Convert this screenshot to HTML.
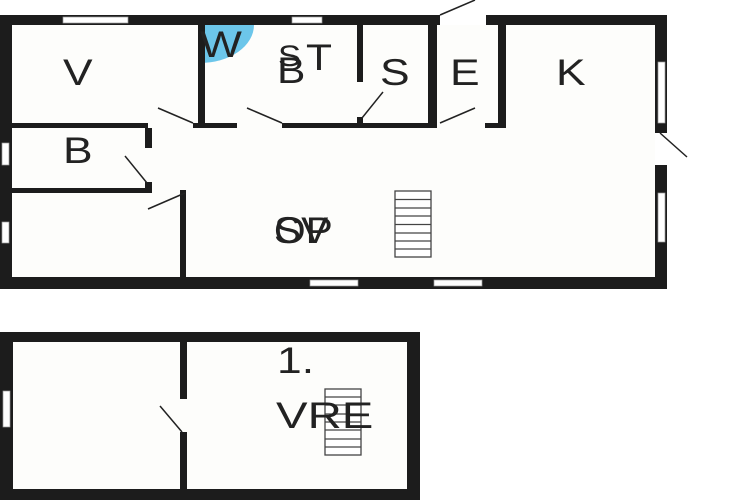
<!DOCTYPE html>
<html><head><meta charset="utf-8"><style>
html,body{margin:0;padding:0;background:#fff;}
svg{display:block;}
text{font-family:"Liberation Sans",sans-serif;font-size:37px;fill:#222;}
</style></head><body>
<svg width="750" height="500" viewBox="0 0 750 500" xmlns="http://www.w3.org/2000/svg">
<rect x="0" y="0" width="750" height="500" fill="#fff"/>
<rect x="12" y="25" width="643" height="252" fill="#fdfdfb"/>
<path d="M200 25 L254 25 A54 38 0 0 1 200 63 Z" fill="#6cc6ea"/>
<g fill="#1c1c1c">
<rect x="0" y="15" width="440" height="10"/>
<rect x="486" y="15" width="181" height="10"/>
<rect x="0" y="15" width="12" height="274"/>
<rect x="0" y="277" width="667" height="12"/>
<rect x="655" y="15" width="12" height="118"/>
<rect x="655" y="165" width="12" height="124"/>
<rect x="198" y="25" width="7" height="103"/>
<rect x="12" y="123" width="136" height="5"/>
<rect x="193" y="123" width="44" height="5"/>
<rect x="282" y="123" width="155" height="5"/>
<rect x="357" y="25" width="6" height="57"/>
<rect x="357" y="117" width="6" height="8"/>
<rect x="428" y="25" width="9" height="103"/>
<rect x="498" y="25" width="8" height="103"/>
<rect x="485" y="123" width="21" height="5"/>
<rect x="12" y="188" width="140" height="5"/>
<rect x="145" y="128" width="7" height="20"/>
<rect x="145" y="182" width="7" height="11"/>
<rect x="180" y="190" width="6" height="87"/>
</g>
<g fill="#fff" stroke="#999" stroke-width="0.7">
<rect x="63" y="17" width="65" height="6"/>
<rect x="292" y="17" width="30" height="6"/>
<rect x="2" y="143" width="7" height="22"/>
<rect x="2" y="222" width="7" height="21"/>
<rect x="310" y="280" width="48" height="6"/>
<rect x="434" y="280" width="48" height="6"/>
<rect x="658" y="62" width="7" height="61"/>
<rect x="658" y="193" width="7" height="49"/>
</g>
<g stroke="#444" stroke-width="1.3" fill="#fff">
<rect x="395" y="191" width="36" height="66"/>
<path d="M395 199.5H431M395 208H431M395 216H431M395 224.5H431M395 233H431M395 241H431M395 249H431"/>
</g>
<text transform="translate(63,85) scale(1.2,1)">V</text>
<text transform="translate(200,57) scale(1.2,1)">W</text>
<text transform="translate(277,83) scale(1.15,1)">B</text>
<text transform="translate(278,66) scale(1.15,1)" style="font-size:30px">S</text>
<text transform="translate(306,70) scale(1.15,1)">T</text>
<text transform="translate(380,85) scale(1.2,1)">S</text>
<text transform="translate(450,85) scale(1.2,1)">E</text>
<text transform="translate(556,85) scale(1.2,1)">K</text>
<text transform="translate(63,163) scale(1.2,1)">B</text>
<text transform="translate(274,243) scale(1.1,1)">SV</text>
<text transform="translate(274,243) scale(1.1,1)">OP</text>
<!-- bottom plan -->
<rect x="13" y="342" width="394" height="147" fill="#fdfdfb"/>
<g fill="#1c1c1c">
<rect x="0" y="332" width="420" height="10"/>
<rect x="0" y="489" width="420" height="11"/>
<rect x="0" y="332" width="13" height="168"/>
<rect x="407" y="332" width="13" height="168"/>
<rect x="180" y="342" width="7" height="57"/>
<rect x="180" y="432" width="7" height="57"/>
</g>
<g fill="#fff" stroke="#999" stroke-width="0.7">
<rect x="3" y="391" width="7" height="36"/>
</g>
<g stroke="#444" stroke-width="1.3" fill="#fff">
<rect x="325" y="389" width="36" height="66"/>
<path d="M325 397H361M325 405H361M325 414H361M325 422H361M325 430H361M325 439H361M325 447H361"/>
</g>
<text transform="translate(277,373) scale(1.2,1)">1.</text>
<text transform="translate(276,428) scale(1.28,1)">VRE</text>
<g stroke="#222" stroke-width="1.5" fill="none">
<line x1="158" y1="108" x2="193" y2="123"/>
<line x1="247" y1="108" x2="282" y2="123"/>
<line x1="362" y1="118" x2="383" y2="92"/>
<line x1="440" y1="123" x2="475" y2="108"/>
<line x1="440" y1="15" x2="475" y2="0"/>
<line x1="660" y1="133" x2="687" y2="157"/>
<line x1="125" y1="156" x2="147" y2="183"/>
<line x1="148" y1="209" x2="185" y2="193"/>
<line x1="160" y1="406" x2="182" y2="432"/>
</g>
</svg>
</body></html>
